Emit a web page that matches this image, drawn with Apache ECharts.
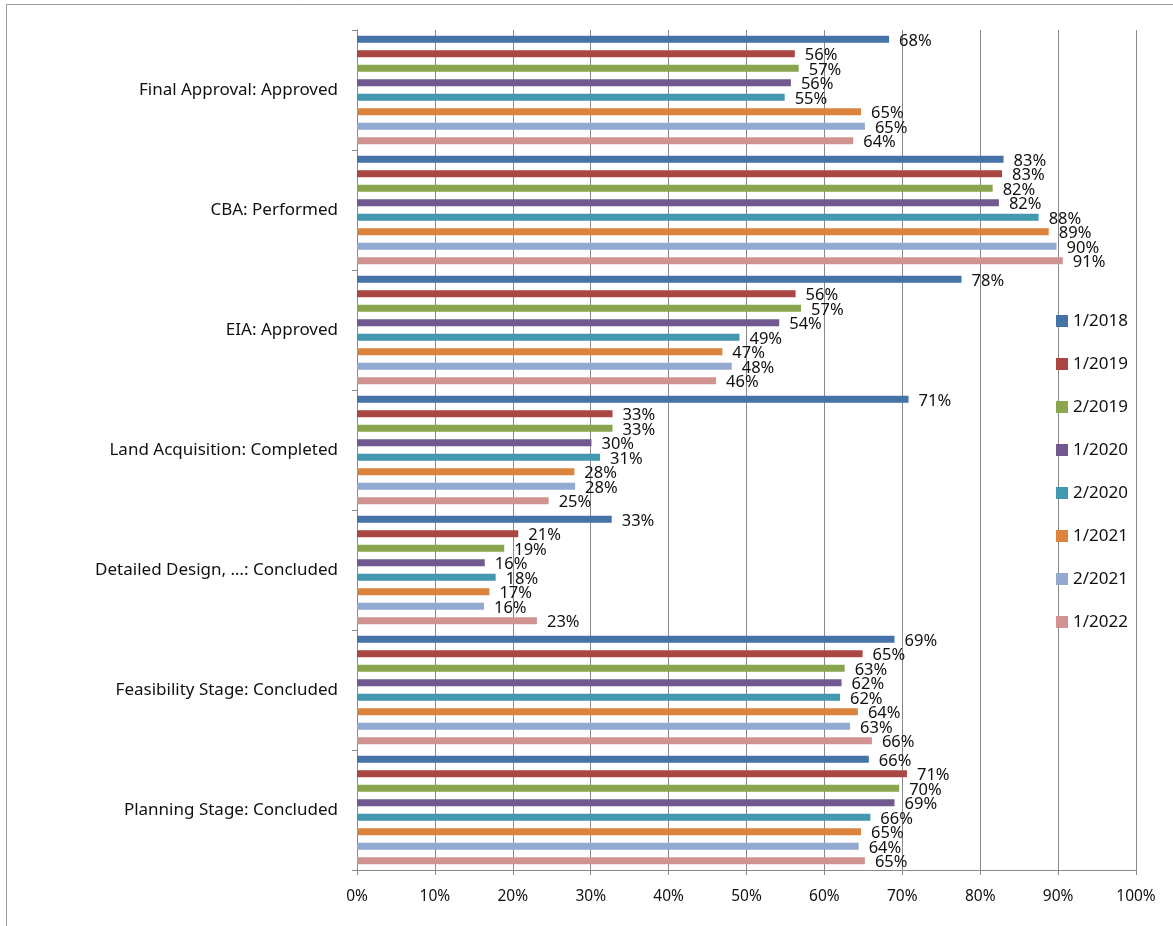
<!DOCTYPE html>
<html>
<head>
<meta charset="utf-8">
<script src="https://cdn.jsdelivr.net/npm/echarts@6/dist/echarts.min.js"></script>
<style>html,body{margin:0;padding:0;background:#fff}#c{width:1173px;height:926px}</style>
</head>
<body>
<div id="c"></div>
<script>
const categories = ["Final Approval: Approved", "CBA: Performed", "EIA: Approved", "Land Acquisition: Completed", "Detailed Design, \u2026: Concluded", "Feasibility Stage: Concluded", "Planning Stage: Concluded"];
const seriesNames = ["1/2018", "1/2019", "2/2019", "1/2020", "2/2020", "1/2021", "2/2021", "1/2022"];
const s2018a = [68.3, 83, 77.6, 70.8, 32.7, 69, 65.7];
const s2019a = [56.2, 82.8, 56.3, 32.8, 20.7, 64.9, 70.6];
const s2019b = [56.7, 81.6, 57, 32.8, 18.9, 62.6, 69.6];
const s2020a = [55.7, 82.4, 54.2, 30.1, 16.4, 62.2, 69];
const s2020b = [54.9, 87.5, 49.1, 31.2, 17.8, 62, 65.9];
const s2021a = [64.7, 88.8, 46.9, 27.9, 17, 64.3, 64.7];
const s2021b = [65.2, 89.8, 48.1, 28, 16.3, 63.3, 64.4];
const s2022a = [63.7, 90.6, 46.1, 24.6, 23.1, 66.1, 65.2];
const xTicks = [0, 10, 20, 30, 40, 50, 60, 70, 80, 90, 100];

const seriesData = [s2018a, s2019a, s2019b, s2020a, s2020b, s2021a, s2021b, s2022a];
const colors = ["#4572A7", "#AA4643", "#89A54E", "#71588F", "#4198AF", "#DB843D", "#93A9CF", "#D19392"];
const FONT = "Noto Sans";

const chart = echarts.init(document.getElementById('c'), null, {renderer: 'canvas'});
chart.setOption({
  animation: false,
  backgroundColor: '#fff',
  color: colors,
  grid: {left: 357, right: 37, top: 30, bottom: 56, containLabel: false},
  legend: {
    orient: 'vertical',
    left: 1051,
    top: 306,
    itemWidth: 12,
    itemHeight: 12,
    itemGap: 23,
    icon: 'rect',
    data: seriesNames,
    textStyle: {fontFamily: FONT, fontSize: 17, color: '#111', lineHeight: 20}
  },
  xAxis: {
    type: 'value',
    min: xTicks[0],
    max: xTicks[xTicks.length - 1],
    interval: 10,
    axisLine: {show: true, lineStyle: {color: '#888', width: 1}},
    axisTick: {show: true, length: 5, lineStyle: {color: '#888'}},
    splitLine: {show: true, lineStyle: {color: '#888', width: 1}},
    axisLabel: {fontFamily: FONT, fontSize: 15.5, color: '#111', margin: 19, formatter: v => v + '%'}
  },
  yAxis: {
    type: 'category',
    inverse: true,
    data: categories,
    axisLine: {show: true, lineStyle: {color: '#888', width: 1}},
    axisTick: {show: true, length: 5, alignWithLabel: false, lineStyle: {color: '#888'}},
    axisLabel: {fontFamily: FONT, fontSize: 17, color: '#111', margin: 19}
  },
  series: seriesNames.map((name, i) => ({
    name: name,
    type: 'bar',
    data: seriesData[i],
    barWidth: 7,
    barGap: '107%',
    itemStyle: {color: colors[i]},
    label: {
      show: true,
      position: 'right',
      distance: 10,
      offset: [0, 2],
      fontFamily: FONT,
      fontSize: 16.5,
      color: '#111',
      formatter: p => Math.round(p.value) + '%'
    }
  })),
  graphic: [{
    type: 'rect',
    shape: {x: 6.5, y: 4.5, width: 1200, height: 1000},
    style: {fill: 'none', stroke: '#999', lineWidth: 1},
    silent: true,
    z: 100
  }]
});
</script>
</body>
</html>
